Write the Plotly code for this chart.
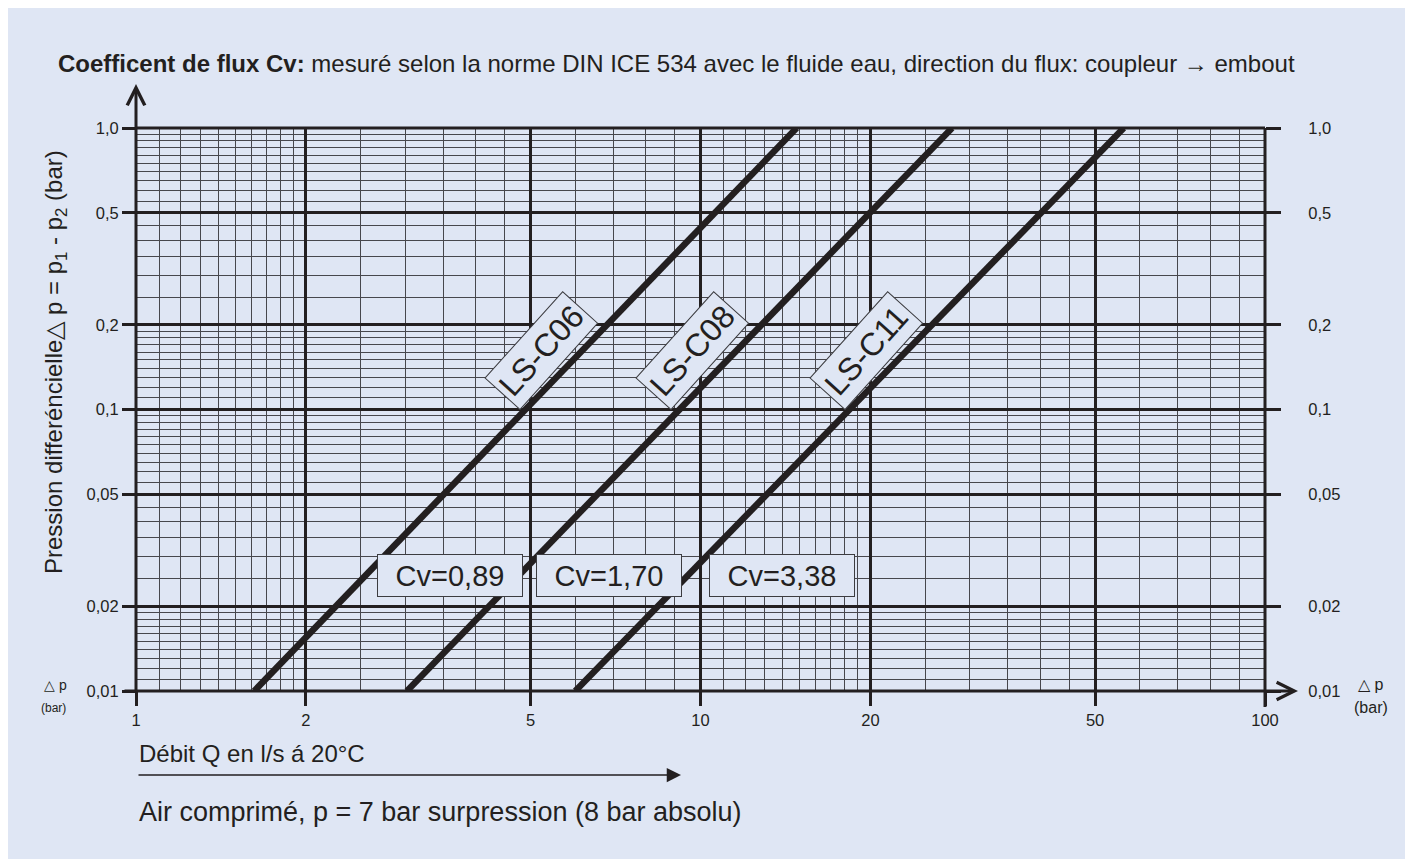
import plotly.graph_objects as go

# flow (l/s) where each coupling line crosses 0.01 bar and 1.0 bar
couplings = ["LS-C06", "LS-C08", "LS-C11"]
cv_labels = ["Cv=0,89", "Cv=1,70", "Cv=3,38"]
dp_ends = [0.01, 1.0]
q_c06 = [1.62, 14.8]
q_c08 = [3.02, 27.9]
q_c11 = [6.0, 56.2]

x_major = [1, 2, 5, 10, 20, 50, 100]
x_major_text = ["1", "2", "5", "10", "20", "50", "100"]
x_minor = [1.1, 1.2, 1.3, 1.4, 1.5, 1.6, 1.7, 1.8, 1.9,
           2.5, 3, 3.5, 4, 4.5, 6, 7, 8, 9,
           11, 12, 13, 14, 15, 16, 17, 18, 19,
           25, 30, 35, 40, 45, 60, 70, 80, 90]

y_major = [0.01, 0.02, 0.05, 0.1, 0.2, 0.5, 1.0]
y_major_text = ["0,01", "0,02", "0,05", "0,1", "0,2", "0,5", "1,0"]
y_minor = [0.011, 0.012, 0.013, 0.014, 0.015, 0.016, 0.017, 0.018, 0.019,
           0.025, 0.03, 0.035, 0.04, 0.045,
           0.055, 0.06, 0.065, 0.07, 0.075, 0.08, 0.085, 0.09, 0.095,
           0.11, 0.12, 0.13, 0.14, 0.15, 0.16, 0.17, 0.18, 0.19,
           0.25, 0.3, 0.35, 0.4, 0.45,
           0.55, 0.6, 0.65, 0.7, 0.75, 0.8, 0.85, 0.9, 0.95]

BG = "#dfe6f4"
INK = "#231f20"
FONT = "Liberation Sans, Arial, sans-serif"

# page size and plot box (page pixels; the page body adds an 8px margin)
W, H = 1413, 859
OFF = 8
L, R, T, B = 136, 1265, 128, 691


def dx(px):
    return (px - L) / (R - L)


def dy(py):
    return (B - py) / (B - T)


fig = go.Figure()

for q, name in zip([q_c06, q_c08, q_c11], couplings):
    fig.add_trace(go.Scatter(x=q, y=dp_ends, mode="lines", name=name,
                             line=dict(color=INK, width=6.5),
                             hoverinfo="skip", showlegend=False))

# keeps the right-hand axis alive
fig.add_trace(go.Scatter(x=x_major[:1], y=y_major[:1], yaxis="y2", mode="markers",
                         marker=dict(opacity=0), hoverinfo="skip", showlegend=False))

axis_common = dict(type="log", ticks="outside", tickwidth=3, tickcolor=INK,
                   showline=False, zeroline=False, fixedrange=True,
                   tickfont=dict(size=16.5, color=INK, family=FONT))

fig.update_layout(
    width=W, height=H, template="none",
    margin=dict(l=L - OFF, r=W - (R - OFF), t=T - OFF, b=H - (B - OFF), autoexpand=False),
    paper_bgcolor=BG, plot_bgcolor=BG,
    font=dict(family=FONT, color=INK),
    xaxis=dict(range=[0, 2], tickvals=x_major, ticktext=x_major_text, ticklen=14,
               showgrid=True, gridcolor=INK, gridwidth=3,
               minor=dict(tickvals=x_minor, showgrid=True, gridcolor="#47474d",
                          gridwidth=1.3, ticks=""),
               **axis_common),
    yaxis=dict(range=[-2, 0], tickvals=y_major, ticktext=y_major_text, ticklen=13,
               showgrid=True, gridcolor=INK, gridwidth=3,
               minor=dict(tickvals=y_minor, showgrid=True, gridcolor="#47474d",
                          gridwidth=1.3, ticks=""),
               **axis_common),
    yaxis2=dict(range=[-2, 0], overlaying="y", side="right", tickvals=y_major,
                ticktext=y_major_text, ticklen=15, showgrid=False,
                ticklabelstandoff=24, **axis_common),
)

shapes = [
    dict(type="line", xref="paper", yref="paper", x0=1, x1=1, y0=dy(707), y1=1,
         line=dict(color=INK, width=3)),
    dict(type="line", xref="paper", yref="paper", x0=0, x1=1, y0=1, y1=1,
         line=dict(color=INK, width=3)),
]
fig.update_layout(shapes=shapes)

ann = []
# axis arrows
ann.append(dict(xref="x domain", yref="y domain", axref="x domain", ayref="y domain",
                x=0, y=dy(84), ax=0, ay=dy(B + 1), text="", showarrow=True,
                arrowhead=5, arrowsize=1.15, arrowwidth=3, arrowcolor=INK, standoff=0))
ann.append(dict(xref="x domain", yref="y domain", axref="x domain", ayref="y domain",
                x=dx(1298), y=0, ax=dx(L - 13), ay=0, text="", showarrow=True,
                arrowhead=5, arrowsize=1.15, arrowwidth=3, arrowcolor=INK, standoff=0))
# flow direction arrow
ann.append(dict(xref="x domain", yref="y domain", axref="x domain", ayref="y domain",
                x=dx(681), y=dy(775), ax=dx(137), ay=dy(775), text="", showarrow=True,
                arrowhead=2, arrowsize=1.9, arrowwidth=1.5, arrowcolor=INK, standoff=0))

# coupling names along the lines
for name, cx in zip(couplings, [541, 692, 866]):
    ann.append(dict(xref="x domain", yref="y domain", x=dx(cx), y=dy(351),
                    xanchor="center", yanchor="middle",
                    text=name, showarrow=False, textangle=-48,
                    font=dict(size=32, color=INK, family=FONT),
                    bgcolor=BG, bordercolor="#3c3c40", borderwidth=1, borderpad=0,
                    width=115, height=46))

# Cv boxes
for lab, cx in zip(cv_labels, [450, 609, 782]):
    ann.append(dict(xref="x domain", yref="y domain", x=dx(cx), y=dy(575.5),
                    xanchor="center", yanchor="middle",
                    text=lab, showarrow=False,
                    font=dict(size=29, color=INK, family=FONT),
                    bgcolor=BG, bordercolor="#3c3c40", borderwidth=1, borderpad=0,
                    width=144, height=41))

texts = [
    (56, 63, "left", 24,
     "<b>Coefficent de flux Cv:</b> mesuré selon la norme DIN ICE 534 avec le fluide eau, "
     "direction du flux: coupleur \u2192 embout"),
    (137, 753, "left", 24, "Débit Q en l/s á 20°C"),
    (137, 812, "left", 27, "Air comprimé, p = 7 bar surpression (8 bar absolu)"),
    (55, 685, "center", 14, "\u25b3 p"),
    (53, 708, "center", 12, "(bar)"),
    (1370, 684, "center", 16, "\u25b3 p"),
    (1371, 707, "center", 16, "(bar)"),
]
for px, py, anchor, size, txt in texts:
    ann.append(dict(xref="x domain", yref="y domain", x=dx(px), y=dy(py), text=txt,
                    xanchor=anchor, yanchor="middle", showarrow=False,
                    font=dict(size=size, color=INK, family=FONT)))

ann.append(dict(xref="x domain", yref="y domain", x=dx(55), y=dy(362),
                xanchor="center", yanchor="middle",
                text="Pression differéncielle\u25b3 p = p<sub>1</sub> - p<sub>2</sub> (bar)",
                textangle=-90, showarrow=False,
                font=dict(size=24, color=INK, family=FONT)))

fig.update_layout(annotations=ann)

fig.write_html("out.html")
